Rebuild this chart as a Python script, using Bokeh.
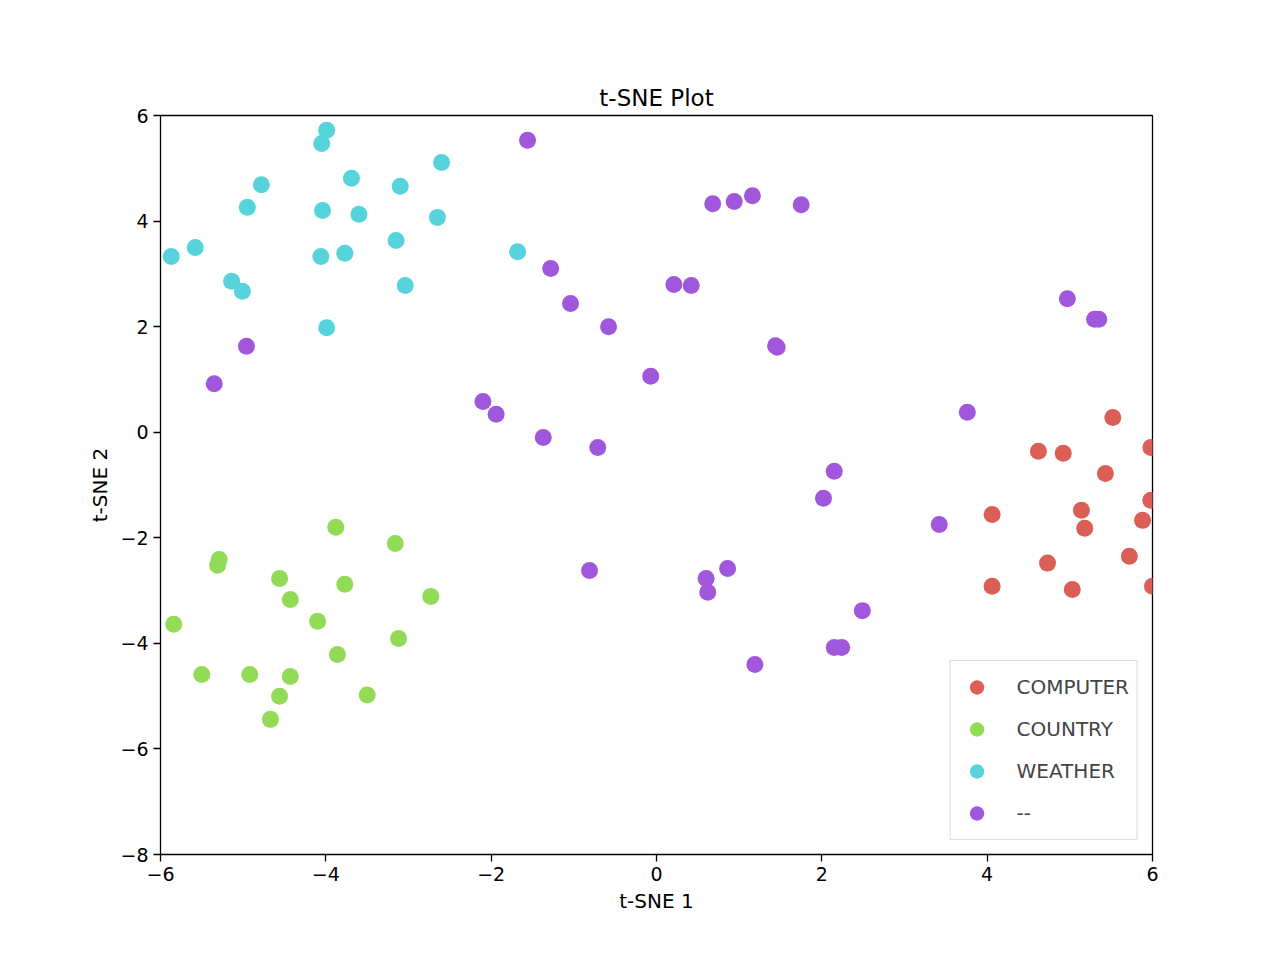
from bokeh.plotting import figure
from bokeh.models import Range1d, FixedTicker, Legend, LegendItem
from bokeh.embed import file_html
from bokeh.resources import INLINE

computer_x = [4.06, 4.06, 4.62, 4.92, 4.73, 5.03, 5.14, 5.18, 5.52, 5.43, 5.72, 5.88, 5.98, 5.98, 6.0]
computer_y = [-1.56, -2.92, -0.36, -0.40, -2.48, -2.98, -1.48, -1.82, 0.28, -0.78, -2.35, -1.67, -0.29, -1.29, -2.92]

country_x = [-5.84, -5.50, -5.29, -5.31, -4.92, -4.56, -4.56, -4.67, -4.43, -4.43, -4.10, -3.88, -3.77, -3.86, -3.50, -3.16, -3.12, -2.73]
country_y = [-3.64, -4.59, -2.41, -2.52, -4.59, -2.77, -5.00, -5.44, -3.17, -4.63, -3.58, -1.80, -2.88, -4.21, -4.98, -2.11, -3.91, -3.11]

weather_x = [-5.87, -5.58, -5.14, -5.01, -4.95, -4.78, -3.99, -4.05, -4.04, -4.06, -3.99, -3.77, -3.69, -3.60, -3.10, -3.15, -3.04, -2.65, -2.60, -1.68]
weather_y = [3.33, 3.50, 2.86, 2.67, 4.26, 4.69, 5.72, 5.47, 4.20, 3.33, 1.98, 3.39, 4.81, 4.13, 4.66, 3.63, 2.78, 4.07, 5.11, 3.42]

other_x = [-4.96, -5.35, -1.56, -1.28, -1.04, -0.58, -0.07, -2.10, -1.94, -1.37, -0.71, -0.81, 0.21, 0.42, 0.68, 0.94, 1.16, 1.75,
           1.44, 1.46, 0.60, 0.62, 0.86, 1.19, 2.15, 2.24, 2.15, 2.02, 2.49, 3.42, 3.76, 4.97, 5.30, 5.35]
other_y = [1.63, 0.92, 5.53, 3.10, 2.44, 2.00, 1.06, 0.58, 0.34, -0.10, -0.29, -2.62, 2.80, 2.78, 4.33, 4.37, 4.48, 4.31,
           1.64, 1.61, -2.77, -3.03, -2.58, -4.40, -4.08, -4.08, -0.74, -1.25, -3.38, -1.75, 0.38, 2.53, 2.14, 2.14]

labels = ["COMPUTER", "COUNTRY", "WEATHER", "--"]
colors = ["#db5f57", "#91db57", "#57d3db", "#a157db"]

x_ticks = [-6, -4, -2, 0, 2, 4, 6]
y_ticks = [-8, -6, -4, -2, 0, 2, 4, 6]

FONT = "DejaVu Sans"

p = figure(width=1264, height=944, output_backend="svg", toolbar_location=None,
           x_range=Range1d(-6, 6), y_range=Range1d(-8, 6),
           min_border_left=160, min_border_right=112, min_border_top=115, min_border_bottom=90,
           title="t-SNE Plot", x_axis_label="t-SNE 1", y_axis_label="t-SNE 2")

p.title.align = "center"
p.title.text_font = FONT
p.title.text_font_style = "normal"
p.title.text_font_size = "23px"
p.title.text_color = "black"
p.grid.visible = False
p.outline_line_color = "black"
p.outline_line_width = 1.3

for ax, ticks in ((p.xaxis, x_ticks), (p.yaxis, y_ticks)):
    ax.ticker = FixedTicker(ticks=ticks)
    ax.major_label_overrides = {t: str(t).replace("-", "\u2212") for t in ticks}
    ax.major_label_text_font = FONT
    ax.major_label_text_font_size = "19px"
    ax.major_label_text_color = "black"
    ax.axis_label_text_font = FONT
    ax.axis_label_text_font_size = "20px"
    ax.axis_label_text_font_style = "normal"
    ax.axis_label_text_color = "black"
    ax.minor_tick_line_color = None
    ax.major_tick_in = 0
    ax.major_tick_out = 7
    ax.axis_line_color = None
    ax.major_tick_line_width = 1.3

items = []
for lab, col, xs, ys in zip(labels, colors,
                            [computer_x, country_x, weather_x, other_x],
                            [computer_y, country_y, weather_y, other_y]):
    r = p.scatter(xs, ys, size=17, color=col, line_color=None)
    items.append(LegendItem(label=lab, renderers=[r]))

legend = Legend(items=items, location="bottom_right", label_text_font=FONT,
                label_text_font_size="20px", glyph_width=36, glyph_height=36,
                spacing=6, padding=8, margin=14, label_standoff=22,
                border_line_color="#bbbbbb", border_line_width=1.5,
                background_fill_alpha=0.8)
p.add_layout(legend)

open("out.html", "w").write(file_html(p, INLINE))
